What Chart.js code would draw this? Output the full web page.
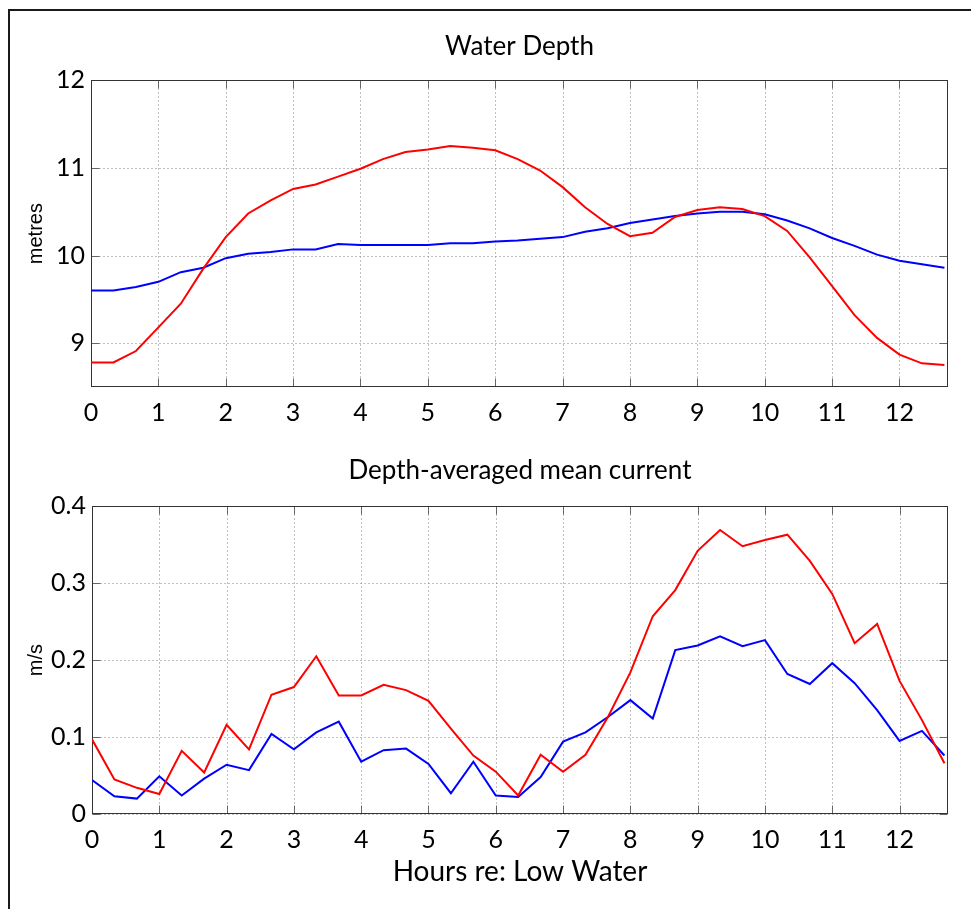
<!DOCTYPE html>
<html>
<head>
<meta charset="utf-8">
<script src="https://cdn.jsdelivr.net/npm/chart.js@4.4.1/dist/chart.umd.min.js"></script>
<style>
html,body{margin:0;padding:0;background:#fff;width:971px;height:909px;overflow:hidden;}
#frame{position:absolute;left:8px;top:9px;width:1000px;height:1000px;border-left:2px solid #1a1a1a;border-top:2px solid #1a1a1a;}
canvas{position:absolute;left:0;}
#c1{top:0;}
#c2{top:440px;}
</style>
</head>
<body>
<div id="frame"></div>
<canvas id="c1" width="971" height="437"></canvas>
<canvas id="c2" width="971" height="469"></canvas>
<script>
// Hours relative to low water (sampled every 20 minutes)
const hours = [0, 0.333, 0.667, 1, 1.333, 1.667, 2, 2.333, 2.667, 3, 3.333, 3.667, 4, 4.333, 4.667,
  5, 5.333, 5.667, 6, 6.333, 6.667, 7, 7.333, 7.667, 8, 8.333, 8.667, 9, 9.333, 9.667,
  10, 10.333, 10.667, 11, 11.333, 11.667, 12, 12.333, 12.667];

// Water depth (metres)
const depthRed = [8.78, 8.78, 8.91, 9.18, 9.45, 9.85, 10.21, 10.48, 10.63, 10.76, 10.81, 10.90, 10.99, 11.10, 11.18,
  11.21, 11.25, 11.23, 11.20, 11.10, 10.97, 10.78, 10.55, 10.36, 10.22, 10.26, 10.44, 10.52, 10.55, 10.53,
  10.45, 10.28, 9.98, 9.65, 9.32, 9.06, 8.87, 8.77, 8.75];
const depthBlue = [9.60, 9.60, 9.64, 9.70, 9.81, 9.86, 9.97, 10.02, 10.04, 10.07, 10.07, 10.13, 10.12, 10.12, 10.12,
  10.12, 10.14, 10.14, 10.16, 10.17, 10.19, 10.21, 10.27, 10.31, 10.37, 10.41, 10.45, 10.48, 10.50, 10.50,
  10.47, 10.40, 10.31, 10.20, 10.11, 10.01, 9.94, 9.90, 9.86];

// Depth-averaged mean current (m/s)
const currentRed = [0.097, 0.045, 0.034, 0.026, 0.082, 0.054, 0.116, 0.084, 0.155, 0.165, 0.205, 0.154, 0.154, 0.168, 0.161,
  0.147, 0.111, 0.076, 0.055, 0.024, 0.077, 0.055, 0.077, 0.126, 0.184, 0.257, 0.291, 0.342, 0.369, 0.348,
  0.356, 0.363, 0.329, 0.286, 0.222, 0.247, 0.173, 0.122, 0.066];
const currentBlue = [0.044, 0.023, 0.020, 0.049, 0.024, 0.046, 0.064, 0.057, 0.104, 0.084, 0.106, 0.120, 0.068, 0.083, 0.085,
  0.065, 0.027, 0.068, 0.024, 0.022, 0.048, 0.094, 0.106, 0.126, 0.148, 0.124, 0.213, 0.219, 0.231, 0.218,
  0.226, 0.182, 0.169, 0.196, 0.170, 0.135, 0.095, 0.108, 0.076];

// Tick labels
const hourTicks = [0, 1, 2, 3, 4, 5, 6, 7, 8, 9, 10, 11, 12];
const depthTicks = [9, 10, 11, 12];
const currentTicks = [0, 0.1, 0.2, 0.3, 0.4];

const titles = { top: 'Water Depth', bottom: 'Depth-averaged mean current' };
const axisTitles = { depth: 'metres', current: 'm/s', hours: 'Hours re: Low Water' };

const TICK_FONT = { family: 'Lato', size: 25 };

const matlabAxes = {
  id: 'matlabAxes',
  beforeDatasetsDraw(chart) {
    const { ctx, chartArea: a } = chart;
    const x = chart.scales.x, y = chart.scales.y;
    const L = Math.round(a.left) + 0.5, R = Math.round(a.right) - 0.5;
    const T = Math.round(a.top) + 0.5, B = Math.round(a.bottom) - 0.5;
    ctx.save();
    // dotted grid
    ctx.lineWidth = 1;
    ctx.strokeStyle = '#808080';
    ctx.setLineDash([1, 3]);
    ctx.beginPath();
    x.ticks.forEach(t => {
      const p = Math.round(x.getPixelForValue(t.value)) + 0.5;
      ctx.moveTo(p, T); ctx.lineTo(p, B);
    });
    y.ticks.forEach(t => {
      const p = Math.round(y.getPixelForValue(t.value)) + 0.5;
      ctx.moveTo(L, p); ctx.lineTo(R, p);
    });
    ctx.stroke();
    ctx.setLineDash([]);
    // inward tick marks
    ctx.strokeStyle = '#666';
    ctx.beginPath();
    x.ticks.forEach(t => {
      const p = Math.round(x.getPixelForValue(t.value)) + 0.5;
      ctx.moveTo(p, T); ctx.lineTo(p, T + 8);
      ctx.moveTo(p, B); ctx.lineTo(p, B - 8);
    });
    y.ticks.forEach(t => {
      const p = Math.round(y.getPixelForValue(t.value)) + 0.5;
      ctx.moveTo(L, p); ctx.lineTo(L + 8, p);
      ctx.moveTo(R, p); ctx.lineTo(R - 8, p);
    });
    ctx.stroke();
    // box
    ctx.strokeStyle = '#333';
    ctx.strokeRect(L, T, R - L, B - T);
    ctx.restore();
  }
};

function makeChart(id, o) {
  return new Chart(document.getElementById(id), {
    type: 'line',
    data: {
      datasets: [
        { data: hours.map((h, i) => ({ x: h, y: o.red[i] })), borderColor: '#ff0000', borderWidth: 2, pointRadius: 0, tension: 0, fill: false },
        { data: hours.map((h, i) => ({ x: h, y: o.blue[i] })), borderColor: '#0000ff', borderWidth: 2, pointRadius: 0, tension: 0, fill: false }
      ]
    },
    options: {
      responsive: false,
      animation: false,
      events: [],
      layout: { padding: { left: 0, right: 23, top: 0, bottom: 0 } },
      plugins: {
        legend: { display: false },
        tooltip: { enabled: false },
        title: {
          display: true, text: o.title, fullSize: false, color: '#000',
          font: { family: 'Lato', size: 26, weight: 'normal' },
          padding: o.titlePad
        }
      },
      scales: {
        x: {
          type: 'linear', min: 0, max: 12.72,
          afterBuildTicks: s => { s.ticks = hourTicks.map(v => ({ value: v })); },
          afterFit: s => { s.height = o.xHeight; },
          grid: { display: false, drawTicks: false },
          border: { display: false },
          ticks: { color: '#000', font: TICK_FONT, padding: 11, maxRotation: 0, autoSkip: false },
          title: o.xTitle ? { display: true, text: o.xTitle, color: '#000', font: { family: 'Lato', size: 28 }, padding: { top: 0, bottom: 20 } } : { display: false }
        },
        y: {
          type: 'linear', min: o.yMin, max: o.yMax,
          afterBuildTicks: s => { s.ticks = o.yTicks.map(v => ({ value: v })); },
          afterFit: s => { s.width = o.yWidth; },
          grid: { display: false, drawTicks: false },
          border: { display: false },
          ticks: { color: '#000', font: TICK_FONT, padding: 6 },
          title: { display: true, text: o.yTitle, color: '#000', font: { family: 'Liberation Sans', size: 20 }, padding: { top: 24, bottom: 0 } }
        }
      }
    },
    plugins: [matlabAxes]
  });
}

makeChart('c1', {
  red: depthRed, blue: depthBlue, title: titles.top, titlePad: { top: 31, bottom: 18 },
  yMin: 8.5, yMax: 12, yTicks: depthTicks, yTitle: axisTitles.depth, yWidth: 91, xHeight: 50, xTitle: null
});
makeChart('c2', {
  red: currentRed, blue: currentBlue, title: titles.bottom, titlePad: { top: 15, bottom: 20 },
  yMin: 0, yMax: 0.4, yTicks: currentTicks, yTitle: axisTitles.current, yWidth: 92, xHeight: 95, xTitle: axisTitles.hours
});
</script>
</body>
</html>
